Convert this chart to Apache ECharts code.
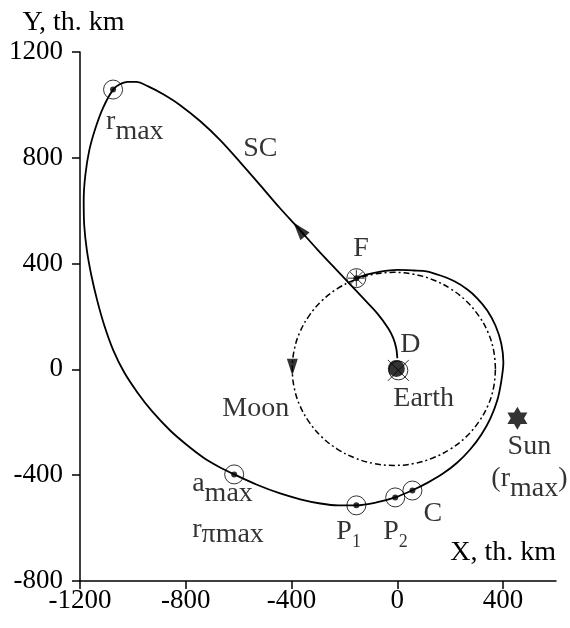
<!DOCTYPE html>
<html><head><meta charset="utf-8">
<script src="https://cdn.jsdelivr.net/npm/echarts@6/dist/echarts.min.js"></script>
<style>html,body{margin:0;padding:0;background:#fff}#c{width:570px;height:628px}</style>
</head><body><div id="c"></div>
<script>
// Spacecraft trajectory (th. km), in drawing order from D near Earth
const trajX = [0,-4,-15,-34,-76,-132,-189,-246,-303,-374,-446,-518,-594,-669,-745,-820,-885,-942,-987,-1021,-1051,-1074,
  -1112,-1142,-1165,-1180,-1186,-1184,-1174,-1157,-1135,-1108,-1074,-1033,-983,-927,-859,-798,-734,-677,-617,-533,-443,-367,-291,-223,-155,-79,-8,57,
  117,174,227,276,318,352,378,393,401,393,371,340,303,265,216,163,110,61,0,-64,-113,-155];
const trajY = [42,79,117,155,212,272,333,393,454,533,612,696,783,866,938,998,1040,1070,1087,1087,1077,1059,
  991,911,828,733,639,544,450,355,261,166,72,-11,-87,-159,-231,-284,-333,-367,-397,-435,-469,-491,-507,-514,-514,-503,-484,-457,
  -427,-393,-352,-302,-246,-185,-117,-45,26,98,166,223,268,302,333,355,371,374,376,370,359,344];
// Moon orbit (th. km)
const moonX = [371,364,342,306,259,201,134,62,-13,-88,-160,-227,-285,-332,-368,-390,-397,-390,-368,-332,-285,-227,-160,-88,-13,62,134,201,259,306,342,364,371];
const moonY = [2,73,142,205,260,305,339,360,367,360,339,305,260,205,142,73,2,-69,-138,-201,-256,-301,-335,-356,-363,-356,-335,-301,-256,-201,-138,-69,2];
// Marked points on the trajectory
const markerNames = ['rmax','amax','P1','P2','C'];
const markerX = [-1075,-617,-155,-8,57];
const markerY = [1058,-397,-514,-484,-458];
const flybyF = [-155,345];
const earthPos = [0,0];
const sunPos = [454,-185];
const scArrowPos = [-371,529];
const moonArrowPos = [-397,8];
const xTicks = [-1200,-800,-400,0,400];
const yTicks = [-800,-400,0,400,800,1200];

const FF = 'Liberation Serif';
const rich = {
  t:  {fontFamily: FF, fontSize: 28, color: '#000', verticalAlign: 'top'},
  sb: {fontFamily: FF, fontSize: 28, color: '#000', verticalAlign: 'top', padding: [10,0,0,0]},
  ss: {fontFamily: FF, fontSize: 18, color: '#000', verticalAlign: 'top', padding: [16,0,0,0]},
  t2: {fontFamily: FF, fontSize: 28, color: '#000', verticalAlign: 'top', padding: [8,0,0,0]},
  sp: {fontFamily: FF, fontSize: 28, color: '#000', verticalAlign: 'top', padding: [13,0,0,0]},
  t3: {fontFamily: FF, fontSize: 28, color: '#000', verticalAlign: 'top', padding: [4,0,0,0]},
  sb2:{fontFamily: FF, fontSize: 28, color: '#000', verticalAlign: 'top', padding: [14,0,0,0]}
};
function lab(text, offset, align) {
  return {show: true, position: 'inside', align: align || 'left', verticalAlign: 'top',
          offset: offset, formatter: text, rich: rich};
}
const markerLabelText = ['{t|r}{sb|max}', '{t|a}{sb|max}\n{t2|r}{sp|πmax}', '{t|P}{ss|1}', '{t|P}{ss|2}', '{t|C}'];
const markerLabelOffset = [[-7,18],[-42,-5],[-20,12],[-12,20],[11,9]];

const pairs = (xs, ys) => xs.map((x, i) => [x, ys[i]]);
const ring = {color: 'transparent', borderColor: '#000', borderWidth: 1};
const plain = v => String(v);

const chart = echarts.init(document.getElementById('c'), null, {renderer: 'canvas'});
chart.setOption({
  animation: false,
  backgroundColor: '#fff',
  grid: {left: 80, right: 14, top: 52, bottom: 47, containLabel: false},
  xAxis: {
    type: 'value', min: -1200, max: 600, interval: 400,
    name: 'X, th. km', nameLocation: 'end', nameGap: 0,
    nameTextStyle: {fontFamily: FF, fontSize: 28, color: '#000', align: 'right', verticalAlign: 'bottom', padding: [0,0,14,0]},
    axisLine: {onZero: false, lineStyle: {color: '#000', width: 1.5}},
    axisTick: {inside: false, length: 8, lineStyle: {color: '#000', width: 1.5}, customValues: xTicks},
    axisLabel: {fontFamily: FF, fontSize: 27, color: '#000', margin: 6, customValues: xTicks, formatter: plain},
    splitLine: {show: false}
  },
  yAxis: {
    type: 'value', min: -800, max: 1200, interval: 400,
    name: 'Y, th. km', nameLocation: 'end', nameGap: 15,
    nameTextStyle: {fontFamily: FF, fontSize: 28, color: '#000', align: 'center', verticalAlign: 'bottom', padding: [0,13,0,0]},
    axisLine: {onZero: false, lineStyle: {color: '#000', width: 1.5}},
    axisTick: {inside: false, length: 8, lineStyle: {color: '#000', width: 1.5}, customValues: yTicks},
    axisLabel: {fontFamily: FF, fontSize: 27, color: '#000', margin: 17, customValues: yTicks, formatter: plain},
    splitLine: {show: false}
  },
  series: [
    {type: 'line', data: pairs(moonX, moonY), smooth: 0.4, symbol: 'none', clip: false,
     lineStyle: {color: '#000', width: 1.5, type: [6,3,2,3]}, z: 2},
    {type: 'line', data: pairs(trajX, trajY), smooth: 0.3, symbol: 'none', clip: false,
     lineStyle: {color: '#000', width: 1.8}, z: 3},
    // arrows
    {type: 'scatter', data: [scArrowPos], symbol: 'triangle', symbolSize: [12,18], symbolRotate: 40,
     itemStyle: {color: '#000'}, z: 5, label: lab('{t|SC}', [-56,-95])},
    {type: 'scatter', data: [moonArrowPos], symbol: 'triangle', symbolSize: [11,17], symbolRotate: 180,
     itemStyle: {color: '#000'}, z: 5, label: lab('{t|Moon}', [-70,27])},
    // marker rings with labels
    {type: 'scatter', symbol: 'circle', symbolSize: 19, itemStyle: ring, z: 6,
     data: markerNames.map((n, i) => ({name: n, value: [markerX[i], markerY[i]],
       label: lab(markerLabelText[i], markerLabelOffset[i])}))},
    // marker centre dots
    {type: 'scatter', symbol: 'circle', symbolSize: 6, itemStyle: {color: '#000'}, z: 7,
     data: pairs(markerX, markerY).concat([flybyF])},
    // F: ring + spokes
    {type: 'scatter', symbol: 'circle', symbolSize: 19, itemStyle: ring, z: 6,
     data: [flybyF], label: lab('{t|F}', [-3,-44])},
    {type: 'scatter', symbol: 'path://M0,-10L0,10M-10,0L10,0M-7.07,-7.07L7.07,7.07M-7.07,7.07L7.07,-7.07',
     symbolSize: 17, itemStyle: ring, z: 6, data: [flybyF]},
    // Earth
    {type: 'scatter', symbol: 'circle', symbolSize: 19, symbolOffset: [1,1], itemStyle: ring, z: 6,
     data: [earthPos], label: lab('{t|Earth}', [-5,14])},
    {type: 'scatter', symbol: 'path://M0,0L10,10M10,0L0,10', symbolSize: 21, symbolOffset: [1,1],
     itemStyle: ring, z: 6, data: [earthPos]},
    {type: 'scatter', symbol: 'circle', symbolSize: 17, symbolOffset: [-1,-1], itemStyle: {color: '#000'}, z: 7,
     data: [earthPos], label: lab('{t|D}', [4,-38])},
    // Sun
    {type: 'scatter', symbol: 'path://M0,-10L8.66,5L-8.66,5Z M0,10L-8.66,-5L8.66,-5Z', symbolSize: [20,23],
     itemStyle: {color: '#000'}, z: 6, data: [sunPos],
     label: lab('{t|Sun}\n{t3|(r}{sb2|max}{t3|)}', [12,14], 'center')}
  ]
});
</script></body></html>
